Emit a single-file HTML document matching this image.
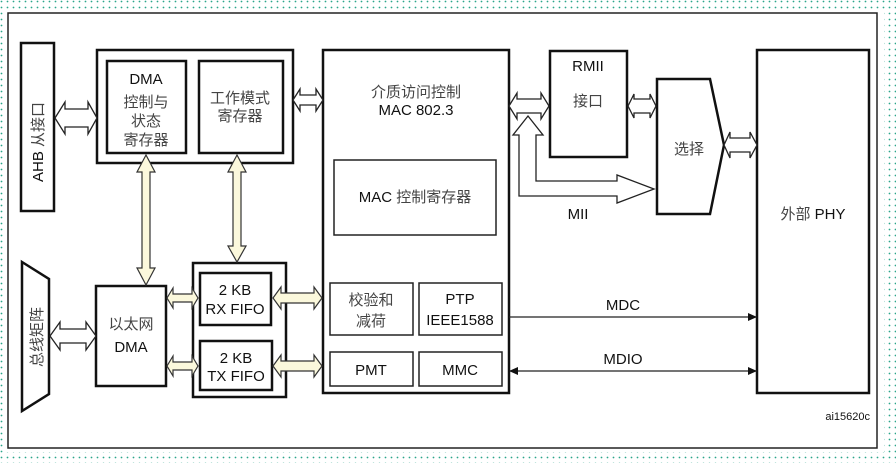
<!DOCTYPE html>
<html><head><meta charset="utf-8"><style>
html,body{margin:0;padding:0;background:#fff;}
svg{display:block;}
text{font-family:"Liberation Sans","Noto Sans CJK SC",sans-serif;fill:#111;}
.cn{fill:#444;}
</style></head><body>
<svg width="896" height="463" viewBox="0 0 896 463" xmlns="http://www.w3.org/2000/svg">
<defs>
<pattern id="dots" width="6" height="6" patternUnits="userSpaceOnUse"><circle cx="1.5" cy="1.5" r="0.9" fill="#2aa58a"/></pattern>
<marker id="ah" markerWidth="10" markerHeight="10" refX="9" refY="5" orient="auto" markerUnits="userSpaceOnUse"><path d="M0,1 L9,5 L0,9 z" fill="#111"/></marker>
<marker id="ahs" markerWidth="10" markerHeight="10" refX="1" refY="5" orient="auto" markerUnits="userSpaceOnUse"><path d="M9,1 L0,5 L9,9 z" fill="#111"/></marker>
</defs>
<rect x="0" y="0" width="896" height="463" fill="url(#dots)"/>
<rect x="4" y="10" width="880" height="442" fill="#fff"/>
<rect x="8" y="13" width="869" height="435" fill="#fff" stroke="#222" stroke-width="1.5"/>

<g fill="none" stroke="#111" stroke-width="2.5">
<rect x="21" y="43" width="33" height="168" fill="#fff"/>
<rect x="97" y="50" width="196" height="113"/>
<rect x="107" y="61" width="79" height="92"/>
<rect x="199" y="61" width="84" height="92"/>
<rect x="323" y="50" width="186" height="343"/>
<rect x="550" y="51" width="77" height="106"/>
<polygon points="657,79 710,79 724,145 710,214 657,214"/>
<rect x="757" y="50" width="112" height="343"/>
<rect x="96" y="286" width="70" height="100"/>
<rect x="193" y="263" width="93" height="134"/>
<rect x="200" y="273" width="71" height="52"/>
<rect x="200" y="341" width="72" height="49"/>
<polygon points="22,262 49,279 49,394 22,411"/>
</g>
<g fill="none" stroke="#222" stroke-width="1.5">
<rect x="334" y="160" width="162" height="75"/>
<rect x="330" y="283" width="83" height="52"/>
<rect x="419" y="283" width="83" height="52"/>
<rect x="330" y="352" width="83" height="34"/>
<rect x="419" y="352" width="83" height="34"/>
</g>

<g fill="#fff" stroke="#222" stroke-width="1.3">
<path d="M55,118 L65,102 L65,109 L88,109 L88,102 L97,118 L88,134 L88,127 L65,127 L65,134 Z"/>
<path d="M293,100 L300,89 L300,95 L316,95 L316,89 L323,100 L316,111 L316,105 L300,105 L300,111 Z"/>
<path d="M509,106 L517,93 L517,99 L541,99 L541,93 L549,106 L541,119 L541,113 L517,113 L517,119 Z"/>
<path d="M628,106 L634,94 L634,99 L650,99 L650,94 L656,106 L650,118 L650,113 L634,113 L634,118 Z"/>
<path d="M724,145 L730,132 L730,138 L750,138 L750,132 L757,145 L750,158 L750,152 L730,152 L730,158 Z"/>
<path d="M50,336 L60,322 L60,329 L86,329 L86,322 L96,336 L86,350 L86,343 L60,343 L60,350 Z"/>
<path d="M528,116 L543,135 L536,135 L536,181 L617,181 L617,175 L654,189 L617,203 L617,196 L519,196 L519,135 L513,135 Z"/>
</g>
<g fill="#fbf8dc" stroke="#333" stroke-width="1.2">
<path d="M146,155 L155,172 L150,172 L150,268 L155,268 L146,285 L137,268 L142,268 L142,172 L137,172 Z"/>
<path d="M237,155 L246,172 L241,172 L241,246 L246,246 L237,262 L228,246 L233,246 L233,172 L228,172 Z"/>
<path d="M167,298 L173,288 L173,294 L192,294 L192,288 L198,298 L192,308 L192,302 L173,302 L173,308 Z"/>
<path d="M167,366 L173,356 L173,362 L192,362 L192,356 L198,366 L192,376 L192,370 L173,370 L173,376 Z"/>
<path d="M273,298 L281,287 L281,293 L314,293 L314,287 L322,298 L314,309 L314,303 L281,303 L281,309 Z"/>
<path d="M273,366 L281,355 L281,361 L314,361 L314,355 L322,366 L314,377 L314,371 L281,371 L281,377 Z"/>
</g>
<line x1="509" y1="317" x2="757" y2="317" stroke="#222" stroke-width="1.3" marker-end="url(#ah)"/>
<line x1="510" y1="371" x2="757" y2="371" stroke="#222" stroke-width="1.3" marker-end="url(#ah)" marker-start="url(#ahs)"/>

<g font-size="15">
<text x="43" y="182" transform="rotate(-90 43 182)">AHB <tspan class="cn">从接口</tspan></text>
<text x="146" y="84" text-anchor="middle">DMA</text>
<text class="cn" x="146" y="107" text-anchor="middle">控制与</text>
<text class="cn" x="146" y="126" text-anchor="middle">状态</text>
<text class="cn" x="146" y="145" text-anchor="middle">寄存器</text>
<text class="cn" x="240" y="103" text-anchor="middle">工作模式</text>
<text class="cn" x="240" y="121" text-anchor="middle">寄存器</text>
<text class="cn" x="416" y="97" text-anchor="middle">介质访问控制</text>
<text x="416" y="115" text-anchor="middle">MAC 802.3</text>
<text x="415" y="202" text-anchor="middle">MAC <tspan class="cn">控制寄存器</tspan></text>
<text class="cn" x="371" y="305" text-anchor="middle">校验和</text>
<text class="cn" x="371" y="326" text-anchor="middle">减荷</text>
<text x="460" y="304" text-anchor="middle">PTP</text>
<text x="460" y="325" text-anchor="middle">IEEE1588</text>
<text x="371" y="375" text-anchor="middle">PMT</text>
<text x="460" y="375" text-anchor="middle">MMC</text>
<text x="588" y="71" text-anchor="middle">RMII</text>
<text class="cn" x="588" y="106" text-anchor="middle">接口</text>
<text class="cn" x="689" y="154" text-anchor="middle">选择</text>
<text x="578" y="219" text-anchor="middle">MII</text>
<text x="813" y="219" text-anchor="middle"><tspan class="cn">外部</tspan> PHY</text>
<text x="623" y="310" text-anchor="middle">MDC</text>
<text x="623" y="364" text-anchor="middle">MDIO</text>
<text class="cn" x="131" y="329" text-anchor="middle">以太网</text>
<text x="131" y="352" text-anchor="middle">DMA</text>
<text x="235" y="295" text-anchor="middle">2 KB</text>
<text x="235" y="314" text-anchor="middle">RX FIFO</text>
<text x="236" y="363" text-anchor="middle">2 KB</text>
<text x="236" y="381" text-anchor="middle">TX FIFO</text>
<text class="cn" x="42" y="337" transform="rotate(-90 42 337)" text-anchor="middle">总线矩阵</text>
<text x="870" y="420" text-anchor="end" font-size="11">ai15620c</text>
</g>
</svg>
</body></html>
